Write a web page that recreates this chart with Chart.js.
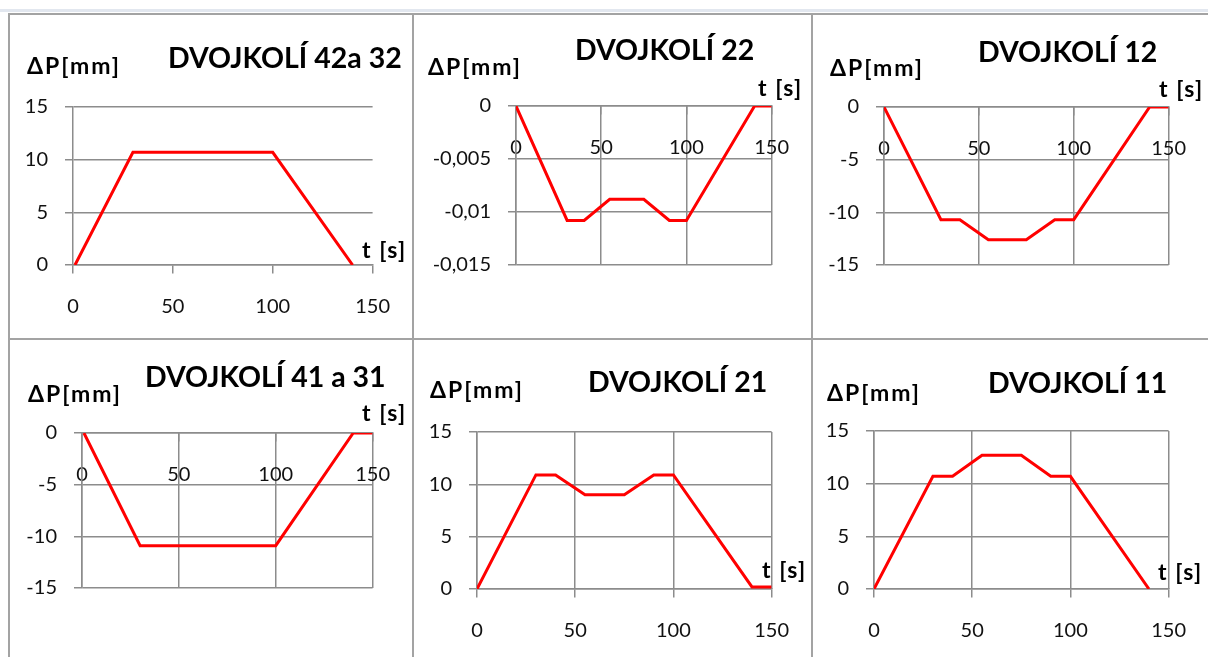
<!DOCTYPE html>
<html>
<head>
<meta charset="utf-8">
<title>DVOJKOLÍ</title>
<script src="https://cdn.jsdelivr.net/npm/chart.js@4/dist/chart.umd.min.js"></script>
<style>
  html, body { margin: 0; padding: 0; background: #fff; }
  body { width: 1208px; height: 657px; position: relative; overflow: hidden; font-family: Lato, "Open Sans", sans-serif; }
  .cell { position: absolute; }
  .cell canvas { position: absolute; left: 0; top: 0; }
  .rule { position: absolute; background: #a3a3a3; }
  .lbl { position: absolute; white-space: nowrap; font-weight: bold; color: #000; line-height: 1; }
</style>
</head>
<body>
<script>
// x axis ticks, same for all six charts
const tTicks = [0, 50, 100, 150];

// y axis ticks
const yTicksPos = [0, 5, 10, 15];
const yTicksNeg = [0, -5, -10, -15];
const yTicks22 = [0, -0.005, -0.01, -0.015];

// DVOJKOLÍ 42a 32
const t42 = [1, 30, 100, 140];
const dp42 = [0, 10.7, 10.7, 0];

// DVOJKOLÍ 22
const t22 = [0, 30, 40, 55, 75, 90, 100, 140, 150];
const dp22 = [0, -0.0108, -0.0108, -0.0088, -0.0088, -0.0108, -0.0108, 0, 0];

// DVOJKOLÍ 12
const t12 = [0, 30, 40, 55, 75, 90, 100, 140, 150];
const dp12 = [0, -10.7, -10.7, -12.6, -12.6, -10.7, -10.7, 0, 0];

// DVOJKOLÍ 41 a 31
const t41 = [1, 30, 100, 140, 150];
const dp41 = [0, -10.9, -10.9, 0, 0];

// DVOJKOLÍ 21
const t21 = [0, 30, 40, 55, 75, 90, 100, 140, 150];
const dp21 = [0, 10.9, 10.9, 9.0, 9.0, 10.9, 10.9, 0.2, 0.2];

// DVOJKOLÍ 11
const t11 = [0, 30, 40, 55, 75, 90, 100, 140];
const dp11 = [0, 10.7, 10.7, 12.7, 12.7, 10.7, 10.7, 0];

const titles = ["DVOJKOLÍ 42a 32", "DVOJKOLÍ 22", "DVOJKOLÍ 12", "DVOJKOLÍ 41 a 31", "DVOJKOLÍ 21", "DVOJKOLÍ 11"];
const yLabel = "ΔP[mm]";
const xLabel = "t [s]";

const gridColor = "#8c8c8c";
const tickFont = { family: "Lato", size: 20 };

// cell = [left, top, width, height], plot = [x0, x1, yTop, yBottom] in page px
const panels = [
    { t: t42, dp: dp42, yTicks: yTicksPos, title: titles[0], vGrid: false,
      cell: [10, 15, 402, 323], plot: [73, 378, 107, 265],
      titleAt: [168, 68], yLabelAt: [27, 74], xLabelAt: [362, 258] },
    { t: t22, dp: dp22, yTicks: yTicks22, title: titles[1], vGrid: true,
      cell: [415, 15, 396, 323], plot: [516, 777, 106, 265],
      titleAt: [575, 60], yLabelAt: [428, 75], xLabelAt: [758, 96] },
    { t: t12, dp: dp12, yTicks: yTicksNeg, title: titles[2], vGrid: true,
      cell: [813, 15, 395, 323], plot: [884, 1176, 107, 265],
      titleAt: [978, 62], yLabelAt: [830, 76], xLabelAt: [1159, 97] },
    { t: t41, dp: dp41, yTicks: yTicksNeg, title: titles[3], vGrid: true,
      cell: [10, 340, 402, 317], plot: [82, 377, 433, 588],
      titleAt: [145, 387], yLabelAt: [28, 402], xLabelAt: [362, 421] },
    { t: t21, dp: dp21, yTicks: yTicksPos, title: titles[4], vGrid: true,
      cell: [415, 340, 396, 317], plot: [477, 777, 432, 589],
      titleAt: [588, 392], yLabelAt: [430, 398], xLabelAt: [762, 578] },
    { t: t11, dp: dp11, yTicks: yTicksPos, title: titles[5], vGrid: true,
      cell: [813, 340, 395, 317], plot: [874, 1176, 431, 589],
      titleAt: [988, 393], yLabelAt: [827, 401], xLabelAt: [1158, 580] },
];

function addRule(x, y, w, h, color) {
    const d = document.createElement("div");
    d.className = "rule";
    d.style.cssText = `left:${x}px;top:${y}px;width:${w}px;height:${h}px;` + (color ? `background:${color};` : "");
    document.body.appendChild(d);
}

// place text by its left edge and baseline (Lato: baseline sits at 0.887em with line-height 1)
function addText(text, x, baseline, size, spacing) {
    const d = document.createElement("div");
    d.className = "lbl";
    d.textContent = text;
    d.style.left = x + "px";
    d.style.top = (baseline - 0.887 * size) + "px";
    d.style.fontSize = size + "px";
    d.style.letterSpacing = (spacing || 0) + "px";
    document.body.appendChild(d);
}

function renderChart(p) {
    const [cx, cy, cw, ch] = p.cell;
    const [x0, x1, yTop, yBottom] = p.plot;

    const wrap = document.createElement("div");
    wrap.className = "cell";
    wrap.style.cssText = `left:${cx}px;top:${cy}px;width:${cw}px;height:${ch}px;`;
    const canvas = document.createElement("canvas");
    canvas.width = cw;
    canvas.height = ch;
    wrap.appendChild(canvas);
    document.body.appendChild(wrap);

    new Chart(canvas, {
        type: "scatter",
        data: {
            datasets: [{
                data: p.t.map((t, i) => ({ x: t, y: p.dp[i] })),
                showLine: true,
                borderColor: "#ff0000",
                borderWidth: 3,
                pointRadius: 0,
                tension: 0,
                fill: false,
            }],
        },
        options: {
            responsive: false,
            animation: false,
            devicePixelRatio: 1,
            layout: {
                padding: { left: 0, top: yTop - cy, right: cx + cw - x1, bottom: cy + ch - yBottom },
            },
            plugins: { legend: { display: false }, tooltip: { enabled: false } },
            scales: {
                x: {
                    type: "linear",
                    position: { y: 0 },
                    min: tTicks[0],
                    max: tTicks[tTicks.length - 1],
                    afterBuildTicks: s => { s.ticks = tTicks.map(v => ({ value: v })); },
                    grid: { color: gridColor, lineWidth: 1.5, tickLength: 8, drawOnChartArea: p.vGrid },
                    border: { color: gridColor, width: 1.5 },
                    ticks: { font: tickFont, color: "#111", padding: 22, maxRotation: 0, autoSkip: false },
                },
                y: {
                    type: "linear",
                    position: "left",
                    min: Math.min(...p.yTicks),
                    max: Math.max(...p.yTicks),
                    afterBuildTicks: s => { s.ticks = p.yTicks.map(v => ({ value: v })); },
                    afterFit: s => { s.width = x0 - cx; },
                    grid: { color: gridColor, lineWidth: 1.5, tickLength: 8 },
                    border: { color: gridColor, width: 1.5 },
                    ticks: {
                        font: tickFont,
                        color: "#111",
                        padding: 17,
                        callback: v => String(v).replace(".", ","),
                    },
                },
            },
        },
    });

    addText(p.title, p.titleAt[0], p.titleAt[1], 28.5, 0);
    addText(yLabel, p.yLabelAt[0], p.yLabelAt[1], 23, 2);
    addText(xLabel, p.xLabelAt[0], p.xLabelAt[1], 23, 1.5);
}

function renderAll() {
    // sheet strip and cell borders
    addRule(0, 9, 1208, 3, "#e2e7ef");
    addRule(9, 13, 1199, 2);
    addRule(9, 338, 1199, 2);
    addRule(8, 13, 2, 644);
    addRule(412, 13, 2, 644);
    addRule(811, 13, 2, 644);
    panels.forEach(renderChart);
}

document.addEventListener("DOMContentLoaded", renderAll);
</script>
</body>
</html>
